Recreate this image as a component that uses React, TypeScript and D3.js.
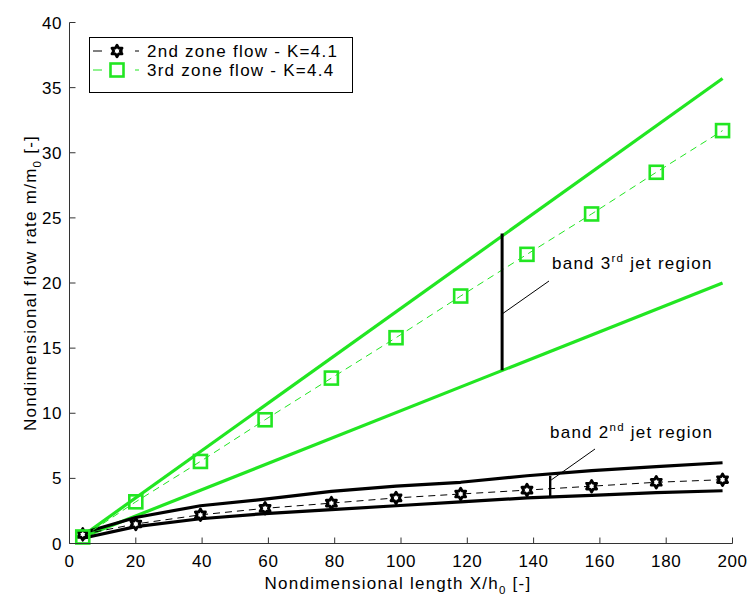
import React from "react";
import * as d3 from "d3";

// ---- data ----
const xPoints = [4, 20, 39.5, 59, 79, 98.5, 118, 138, 157.5, 177, 197];
const zone2Flow = [0.7, 1.5, 2.2, 2.7, 3.1, 3.5, 3.8, 4.1, 4.4, 4.7, 4.9];
const zone3Flow = [0.5, 3.2, 6.3, 9.5, 12.7, 15.8, 19.0, 22.2, 25.3, 28.5, 31.7];

const band2Upper = [0.8, 2.0, 2.9, 3.4, 4.0, 4.4, 4.7, 5.2, 5.6, 5.9, 6.2];
const band2Lower = [0.4, 1.3, 1.9, 2.3, 2.6, 2.9, 3.2, 3.5, 3.7, 3.9, 4.05];

const band3UpperX = [4, 197];
const band3Upper = [0.6, 35.7];
const band3LowerX = [4, 197];
const band3Lower = [0.5, 20.0];

// vertical band markers [x, yLow, yHigh]
const band3Marker = [130.5, 13.3, 23.8];
const band2Marker = [145, 3.6, 5.2];

const xTicks = [0, 20, 40, 60, 80, 100, 120, 140, 160, 180, 200];
const yTicks = [0, 5, 10, 15, 20, 25, 30, 35, 40];

const legendLabels = ["2nd zone flow - K=4.1", "3rd zone flow - K=4.4"];

const GREEN = "#22e622";
const FONT = "'Liberation Sans', Arial, sans-serif";

function hexagram(cx: number, cy: number, ro: number, ri: number) {
  const pts: [number, number][] = [];
  for (let i = 0; i < 12; i++) {
    const a = (Math.PI / 6) * i - Math.PI / 2;
    const r = i % 2 === 0 ? ro : ri;
    pts.push([cx + r * Math.cos(a), cy + r * Math.sin(a)]);
  }
  return "M" + pts.map((p) => p.join(",")).join("L") + "Z";
}

export default function App() {
  const W = 750, H = 599;
  const x = d3.scaleLinear().domain([0, 200]).range([69.5, 732.5]);
  const y = d3.scaleLinear().domain([0, 40]).range([543.5, 22.5]);

  const line = d3
    .line<[number, number]>()
    .x((d) => x(d[0]))
    .y((d) => y(d[1]));

  const zip = (xs: number[], ys: number[]) => xs.map((v, i) => [v, ys[i]] as [number, number]);

  const tickLen = 6;
  const fs = 17;
  const ls = 1.25;

  return (
    <svg
      width={W}
      height={H}
      style={{ position: "absolute", left: 0, top: 0, background: "#fff" }}
      fontFamily={FONT}
    >
      <rect width={W} height={H} fill="#fff" />

      {/* band lines */}
      <path d={line(zip(band3UpperX, band3Upper)) || ""} fill="none" stroke={GREEN} strokeWidth={3.2} />
      <path d={line(zip(band3LowerX, band3Lower)) || ""} fill="none" stroke={GREEN} strokeWidth={3.2} />
      <path d={line(zip(xPoints, band2Upper)) || ""} fill="none" stroke="#000" strokeWidth={3.2} strokeLinejoin="round" />
      <path d={line(zip(xPoints, band2Lower)) || ""} fill="none" stroke="#000" strokeWidth={3.2} strokeLinejoin="round" />

      {/* dashed data lines */}
      <path d={line(zip(xPoints, zone2Flow)) || ""} fill="none" stroke="#000" strokeWidth={1} strokeDasharray="7,5" />
      <path d={line(zip(xPoints, zone3Flow)) || ""} fill="none" stroke={GREEN} strokeWidth={1} strokeDasharray="7,5" />

      {/* markers */}
      {xPoints.map((xv, i) => (
        <path key={"h" + i} d={hexagram(x(xv), y(zone2Flow[i]), 5.8, 3.3)} fill="#fff" stroke="#000" strokeWidth={2.8} strokeLinejoin="round" />
      ))}
      {xPoints.map((xv, i) => (
        <rect key={"s" + i} x={x(xv) - 6.5} y={y(zone3Flow[i]) - 6.5} width={13} height={13} fill="none" stroke={GREEN} strokeWidth={2.6} />
      ))}

      {/* vertical band markers */}
      <line x1={x(band3Marker[0])} x2={x(band3Marker[0])} y1={y(band3Marker[1])} y2={y(band3Marker[2])} stroke="#000" strokeWidth={3} />
      <line x1={x(band2Marker[0])} x2={x(band2Marker[0])} y1={y(band2Marker[1])} y2={y(band2Marker[2])} stroke="#000" strokeWidth={2.4} />

      {/* leader lines */}
      <line x1={x(band3Marker[0])} y1={314} x2={549} y2={281} stroke="#000" strokeWidth={1} />
      <line x1={x(band2Marker[0]) + 1} y1={480} x2={595} y2={449} stroke="#000" strokeWidth={1} />

      {/* annotations */}
      <text x={552} y={269} fontSize={fs} letterSpacing={ls} fill="#000">
        band 3<tspan fontSize={11.5} dy={-7}>rd</tspan>
        <tspan dy={7}> jet region</tspan>
      </text>
      <text x={550} y={438} fontSize={fs} letterSpacing={ls} fill="#000">
        band 2<tspan fontSize={11.5} dy={-7}>nd</tspan>
        <tspan dy={7}> jet region</tspan>
      </text>

      {/* axes */}
      <line x1={x(0)} x2={x(200)} y1={y(0)} y2={y(0)} stroke="#333" strokeWidth={1} />
      <line x1={x(0)} x2={x(0)} y1={y(0)} y2={y(40)} stroke="#333" strokeWidth={1} />
      {xTicks.map((t) => (
        <g key={"xt" + t}>
          <line x1={x(t)} x2={x(t)} y1={y(0)} y2={y(0) - tickLen} stroke="#333" />
          <text x={x(t)} y={567} textAnchor="middle" fontSize={fs} letterSpacing={0.6} fill="#000">
            {t}
          </text>
        </g>
      ))}
      {yTicks.map((t) => (
        <g key={"yt" + t}>
          <line x1={x(0)} x2={x(0) + tickLen} y1={y(t)} y2={y(t)} stroke="#333" />
          <text x={62} y={y(t) + 6} textAnchor="end" fontSize={fs} letterSpacing={0.6} fill="#000">
            {t}
          </text>
        </g>
      ))}

      {/* axis labels */}
      <text x={398} y={589} textAnchor="middle" fontSize={fs} letterSpacing={ls} fill="#000">
        Nondimensional length X/h<tspan fontSize={11.5} dy={5}>0</tspan>
        <tspan dy={-5}> [-]</tspan>
      </text>
      <text
        transform={`translate(36,${(y(0) + y(40)) / 2}) rotate(-90)`}
        textAnchor="middle"
        fontSize={fs}
        letterSpacing={ls}
        fill="#000"
      >
        Nondimensional flow rate m/m<tspan fontSize={11.5} dy={5}>0</tspan>
        <tspan dy={-5}> [-]</tspan>
      </text>

      {/* legend */}
      <rect x={89.5} y={37.5} width={263} height={55} fill="#fff" stroke="#000" strokeWidth={1} />
      <line x1={93} x2={139} y1={51} y2={51} stroke="#000" strokeWidth={1} strokeDasharray="9,12" />
      <path d={hexagram(117, 51, 5.8, 3.3)} fill="#fff" stroke="#000" strokeWidth={2.8} strokeLinejoin="round" />
      <line x1={93} x2={139} y1={70} y2={70} stroke={GREEN} strokeWidth={1} strokeDasharray="9,12" />
      <rect x={110.5} y={63.5} width={13} height={13} fill="#fff" stroke={GREEN} strokeWidth={2.6} />
      <text x={147} y={57} fontSize={fs} letterSpacing={ls} fill="#000">{legendLabels[0]}</text>
      <text x={147} y={76} fontSize={fs} letterSpacing={ls} fill="#000">{legendLabels[1]}</text>
    </svg>
  );
}
